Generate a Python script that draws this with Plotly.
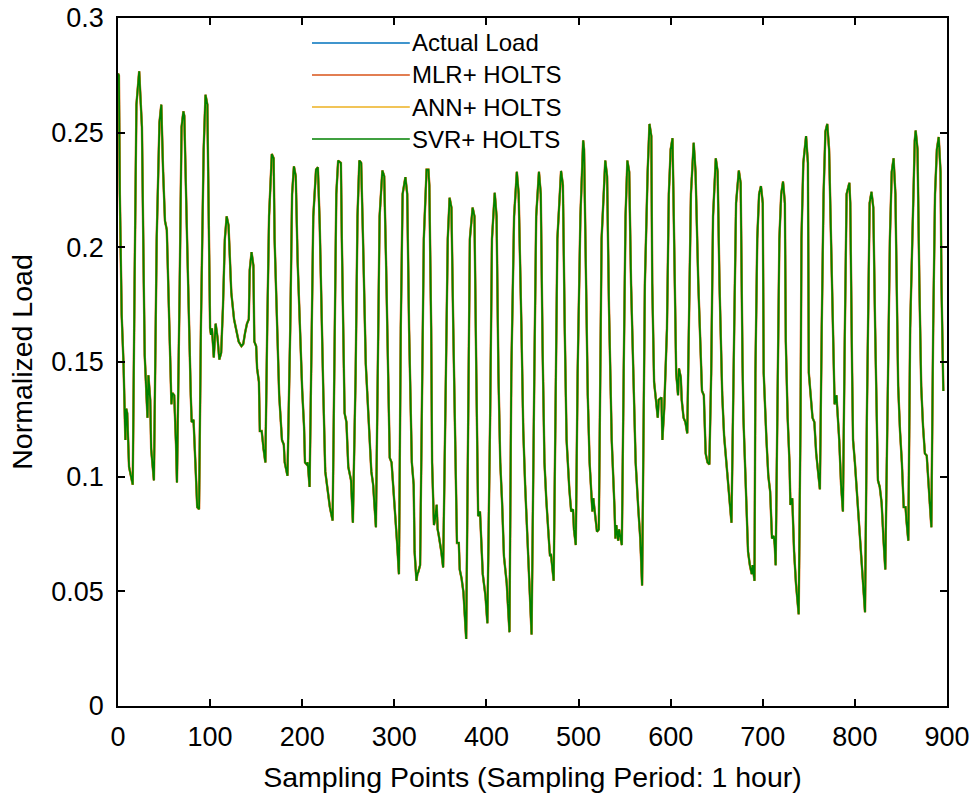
import plotly.graph_objects as go

# ---------------- data ----------------
sample_points = [
    0, 1, 2, 4, 6, 8, 9, 10, 12, 16, 18, 20, 23, 26, 28, 29, 32, 33, 35, 36, 39,
    42, 45, 47, 49, 51, 53, 56, 58, 59, 61, 63, 64, 67, 69, 71, 72, 75, 77, 79,
    80, 82, 84, 86, 88, 90, 93, 95, 97, 98, 100, 101, 102, 104, 106, 108, 110,
    112, 114, 116, 118, 120, 122, 123, 126, 129, 131, 134, 136, 138, 140, 142,
    143, 145, 147, 148, 150, 151, 153, 154, 156, 158, 160, 162, 164, 167, 169,
    170, 173, 175, 178, 180, 181, 184, 187, 189, 191, 193, 195, 198, 200, 202,
    203, 205, 206, 208, 210, 212, 215, 217, 219, 221, 223, 225, 227, 230, 233,
    235, 237, 239, 242, 243, 245, 246, 248, 250, 253, 255, 258, 260, 262, 264,
    266, 269, 272, 274, 275, 277, 280, 282, 284, 287, 289, 291, 293, 295, 297,
    300, 303, 305, 307, 309, 312, 314, 316, 319, 321, 322, 324, 325, 326, 328,
    330, 332, 335, 337, 338, 340, 341, 343, 344, 346, 347, 348, 351, 353, 356,
    358, 360, 362, 364, 366, 368, 370, 371, 373, 375, 378, 380, 382, 385, 387,
    389, 391, 393, 396, 399, 401, 404, 406, 409, 411, 413, 415, 417, 419, 422,
    425, 427, 430, 433, 435, 438, 440, 442, 444, 446, 449, 452, 454, 457, 459,
    461, 463, 465, 466, 468, 469, 470, 473, 475, 477, 481, 483, 485, 487, 490,
    492, 494, 495, 497, 499, 502, 505, 506, 508, 510, 512, 515, 516, 518, 520,
    522, 523, 525, 529, 531, 533, 536, 539, 540, 541, 543, 544, 547, 549, 551,
    553, 555, 557, 560, 562, 565, 567, 569, 570, 572, 575, 577, 579, 580, 582,
    584, 586, 587, 590, 591, 593, 596, 598, 600, 602, 603, 605, 606, 608, 609,
    611, 612, 614, 616, 618, 620, 622, 625, 627, 630, 632, 634, 636, 638, 640,
    642, 644, 646, 649, 651, 653, 656, 658, 660, 662, 664, 666, 669, 671, 674,
    676, 678, 679, 681, 683, 684, 686, 688, 689, 691, 692, 694, 696, 698, 700,
    701, 704, 706, 708, 710, 712, 713, 714, 716, 718, 720, 722, 724, 725, 727,
    729, 730, 732, 734, 736, 739, 741, 742, 744, 747, 749, 750, 752, 754, 756,
    758, 760, 762, 764, 766, 768, 770, 772, 775, 777, 778, 780, 781, 783, 785,
    787, 789, 791, 794, 795, 797, 798, 800, 802, 804, 806, 807, 809, 811, 813,
    815, 816, 818, 820, 822, 824, 825, 827, 829, 831, 833, 836, 838, 840, 842,
    844, 847, 849, 851, 853, 855, 856, 858, 860, 863, 865, 866, 868, 870, 872,
    874, 876, 878, 880, 883, 885, 887, 889, 891, 893, 894, 896,
]

actual_load = [
    0.2758, 0.2749, 0.2232, 0.1706, 0.1491, 0.1160, 0.1296, 0.1277, 0.1043, 0.0965,
    0.1842, 0.2622, 0.2768, 0.2524, 0.1842, 0.1530, 0.1257, 0.1442, 0.1335, 0.1121,
    0.0984, 0.2037, 0.2544, 0.2622, 0.2329, 0.2115, 0.2076, 0.1647, 0.1316, 0.1365,
    0.1355, 0.1140, 0.0975, 0.1842, 0.2524, 0.2593, 0.2573, 0.2037, 0.1608, 0.1355,
    0.1238, 0.1248, 0.1062, 0.0867, 0.0858, 0.1647, 0.2427, 0.2665, 0.2622, 0.2232,
    0.1647, 0.1618, 0.1647, 0.1520, 0.1667, 0.1608, 0.1511,
    0.1540, 0.1745, 0.2037, 0.2135, 0.2096, 0.1940, 0.1803, 0.1686, 0.1628, 0.1589,
    0.1569, 0.1579, 0.1628, 0.1667, 0.1686, 0.1901, 0.1979, 0.1920, 0.1589, 0.1569,
    0.1472, 0.1413, 0.1199, 0.1199, 0.1121, 0.1062, 0.1647, 0.2135, 0.2407, 0.2388,
    0.2037, 0.1550, 0.1355, 0.1160, 0.1140, 0.1062, 0.1004, 0.1647, 0.2232, 0.2353,
    0.2310, 0.1940, 0.1550, 0.1374, 0.1218, 0.1062, 0.1053, 0.1062, 0.0955, 0.1550,
    0.2135, 0.2339, 0.2349, 0.2100, 0.1630, 0.1350, 0.1023, 0.0965, 0.0867, 0.0809,
    0.1647, 0.2232, 0.2378, 0.2368, 0.2037, 0.1530, 0.1277, 0.1238, 0.1043, 0.0984,
    0.0799, 0.1452, 0.2135, 0.2378, 0.2368, 0.2037, 0.1491, 0.1257, 0.1062, 0.1023,
    0.0965, 0.0780, 0.1452, 0.2135, 0.2335, 0.2310, 0.1940, 0.1452, 0.1082, 0.1062,
    0.0906, 0.0711, 0.0575, 0.1647, 0.2232, 0.2306, 0.2232, 0.1647, 0.1062, 0.0965,
    0.0673, 0.0546, 0.0575, 0.0585, 0.0614, 0.1257, 0.2037, 0.2339, 0.2339, 0.2271,
    0.1647, 0.1062, 0.0789, 0.0809, 0.0877, 0.0770, 0.0750, 0.0673, 0.0604, 0.1452,
    0.2037, 0.2216, 0.2173, 0.1647, 0.1160, 0.0711, 0.0711, 0.0595, 0.0556, 0.0497,
    0.0292, 0.1257, 0.2037, 0.2173, 0.2135, 0.1452, 0.0828, 0.0848, 0.0575, 0.0478,
    0.0361, 0.1257, 0.2037, 0.2238, 0.2135, 0.1452, 0.1062, 0.0887, 0.0653, 0.0536,
    0.0322, 0.1452, 0.2135, 0.2329, 0.2232, 0.1647, 0.1199, 0.0965, 0.0770, 0.0575,
    0.0312, 0.1452, 0.2135, 0.2329, 0.2232, 0.1550, 0.1062, 0.0897, 0.0848, 0.0711,
    0.0653, 0.0663, 0.0546, 0.1257, 0.2037, 0.2333, 0.2271, 0.1647, 0.1160, 0.0945,
    0.0848, 0.0858, 0.0770, 0.0702, 0.1452, 0.2135, 0.2466, 0.2427, 0.1842, 0.1355,
    0.1062, 0.0848, 0.0906, 0.0828, 0.0760, 0.0770, 0.1257, 0.2037, 0.2378, 0.2310,
    0.1745, 0.1160, 0.0867, 0.0731, 0.0789, 0.0721, 0.0770, 0.0702, 0.1452, 0.2135,
    0.2378, 0.2329, 0.1842, 0.1355, 0.1062, 0.0850, 0.0731, 0.0526, 0.1062, 0.1842,
    0.2329, 0.2538, 0.2485, 0.1842, 0.1413, 0.1316, 0.1257, 0.1335, 0.1345, 0.1160,
    0.1296, 0.1647, 0.2232, 0.2427, 0.2476, 0.2232, 0.1647, 0.1452, 0.1355, 0.1472,
    0.1433, 0.1335, 0.1257, 0.1238, 0.1189, 0.1647, 0.2232, 0.2456, 0.2329, 0.1842,
    0.1550, 0.1374, 0.1355, 0.1101, 0.1062, 0.1053, 0.1452, 0.2135, 0.2388, 0.2329,
    0.1842, 0.1355, 0.1179, 0.1082, 0.0965, 0.0867, 0.0799, 0.1647, 0.2193, 0.2335,
    0.2280, 0.1500, 0.1257, 0.1023, 0.0770, 0.0673, 0.0614, 0.0575, 0.0614, 0.0546,
    0.1452, 0.2037, 0.2232, 0.2267, 0.2193, 0.1452, 0.1160, 0.1004, 0.0936, 0.0731,
    0.0741, 0.0702, 0.0614, 0.1452, 0.2037, 0.2232, 0.2287, 0.2193, 0.1589, 0.1257,
    0.1062, 0.0877, 0.0906, 0.0673, 0.0536, 0.0400, 0.1257, 0.2037, 0.2368, 0.2485,
    0.2368, 0.1452, 0.1335, 0.1257, 0.1238, 0.1101, 0.1023, 0.0945, 0.1647, 0.2232,
    0.2505, 0.2538, 0.2427, 0.1842, 0.1394, 0.1316, 0.1355, 0.1296, 0.1160, 0.0965,
    0.0848, 0.1600, 0.2232, 0.2281, 0.2193, 0.1452, 0.1160, 0.1062, 0.0945, 0.0789,
    0.0711, 0.0614, 0.0536, 0.0409, 0.1257, 0.2037, 0.2193, 0.2242, 0.2173, 0.1647,
    0.1160, 0.0984, 0.0955, 0.0887, 0.0731, 0.0595, 0.1452, 0.2037, 0.2329, 0.2388,
    0.2232, 0.1394, 0.1199, 0.1062, 0.0867, 0.0867, 0.0809, 0.0721, 0.1647, 0.2232,
    0.2466, 0.2509, 0.2427, 0.1842, 0.1394, 0.1218, 0.1101, 0.1092, 0.0984, 0.0780,
    0.1647, 0.2232, 0.2427, 0.2481, 0.2329, 0.1842, 0.1374,
]

# The three forecasts overlap the actual load everywhere in the picture
mlr_holts = list(actual_load)
ann_holts = list(actual_load)
svr_holts = list(actual_load)

series_names = ["Actual Load", "MLR+ HOLTS", "ANN+ HOLTS", "SVR+ HOLTS"]
series_colors = ["#0072BD", "#D95319", "#EDB120", "#008000"]
series_widths = [1.8, 2.4, 2.0, 1.8]

x_tick_vals = [0, 100, 200, 300, 400, 500, 600, 700, 800, 900]
y_tick_vals = [0, 0.05, 0.1, 0.15, 0.2, 0.25, 0.3]
y_tick_text = ["0", "0.05", "0.1", "0.15", "0.2", "0.25", "0.3"]

FONT = "Liberation Sans, Arial, Helvetica, sans-serif"

fig = go.Figure()
for name, vals, col, w in zip(series_names,
                              [actual_load, mlr_holts, ann_holts, svr_holts],
                              series_colors, series_widths):
    fig.add_trace(go.Scatter(x=sample_points, y=vals, mode="lines", name=name,
                             line=dict(color=col, width=w), showlegend=False))

# legend drawn MATLAB-style (no box, long line samples)
legend_rows = [0.9637, 0.9172, 0.8706, 0.8241]
for name, col, yy in zip(series_names, series_colors, legend_rows):
    fig.add_shape(type="line", xref="paper", yref="paper",
                  x0=0.234, x1=0.352, y0=yy, y1=yy,
                  line=dict(color=col, width=1.5))
    fig.add_annotation(xref="paper", yref="paper", x=0.3525, y=yy,
                       text=name, showarrow=False, xanchor="left", yanchor="middle",
                       font=dict(family=FONT, size=24, color="#000000"))

axis_common = dict(showgrid=False, zeroline=False, showline=True, linecolor="#000000",
                   linewidth=1.5, mirror="ticks", ticks="inside", ticklen=7,
                   tickwidth=1.5, tickcolor="#000000", automargin=False,
                   tickfont=dict(family=FONT, size=27, color="#000000"))

fig.update_xaxes(range=[0, 900], tickvals=x_tick_vals, ticklabelstandoff=6,
                 title=dict(text="Sampling Points (Sampling Period: 1 hour)",
                            font=dict(family=FONT, size=28.5, color="#000000"), standoff=17),
                 **axis_common)
fig.update_yaxes(range=[0, 0.3], tickvals=y_tick_vals, ticktext=y_tick_text,
                 ticklabelstandoff=7,
                 title=dict(text="Normalized Load",
                            font=dict(family=FONT, size=28.5, color="#000000"), standoff=10),
                 **axis_common)

fig.update_layout(width=976, height=793,
                  margin=dict(l=118, r=29, t=18, b=87, autoexpand=False),
                  paper_bgcolor="#ffffff", plot_bgcolor="#ffffff",
                  font=dict(family=FONT, color="#000000"))

fig.write_html("out.html", config={"displayModeBar": False},
               post_script="document.body.style.margin='0';")
